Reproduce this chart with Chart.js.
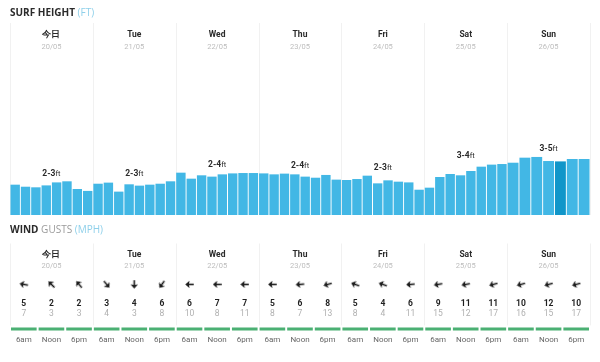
<!DOCTYPE html>
<html>
<head>
<meta charset="utf-8">
<script src="https://cdn.jsdelivr.net/npm/chart.js@4.4.1/dist/chart.umd.min.js"></script>
<style>
  html, body { margin: 0; padding: 0; background: #fff; }
  #wrap { position: relative; width: 600px; height: 362px; overflow: hidden; font-family: "Open Sans", sans-serif; }
  .ttl { position: absolute; left: 10px; font-size: 10px; font-weight: 700; color: #2b2b2b; white-space: nowrap; line-height: 12px; }
  .ttl .u { color: #8fd0ea; font-weight: 400; }
  .ttl .g { color: #9a9a9a; font-weight: 400; }
  #surfTitle { top: 6px; }
  #windTitle { top: 223px; }
  #surf { position: absolute; left: 0; top: 0; }
  #wind { position: absolute; left: 0; top: 218px; }
</style>
</head>
<body>
<div id="wrap">
  <canvas id="surf" width="600" height="218"></canvas>
  <canvas id="wind" width="600" height="144"></canvas>
  <div class="ttl" id="surfTitle">SURF HEIGHT <span class="u">(FT)</span></div>
  <div class="ttl" id="windTitle">WIND <span class="g">GUSTS</span> <span class="u">(MPH)</span></div>
</div>
<script>
// days / dates
const days = ["今日", "Tue", "Wed", "Thu", "Fri", "Sat", "Sun"];
const dates = ["20/05", "21/05", "22/05", "23/05", "24/05", "25/05", "26/05"];

// surf height per 3h (ft), last day has only 7 readings
const surfRanges = ["2-3", "2-3", "2-4", "2-4", "2-3", "3-4", "3-5"];
const surfFt = [
  [2.50, 2.33, 2.28, 2.44, 2.69, 2.78, 2.14, 1.98],
  [2.58, 2.67, 1.92, 2.53, 2.42, 2.50, 2.58, 2.78],
  [3.50, 3.00, 3.28, 3.17, 3.36, 3.44, 3.47, 3.47],
  [3.44, 3.36, 3.42, 3.36, 3.17, 3.08, 3.31, 2.92],
  [2.89, 2.97, 3.25, 2.61, 2.86, 2.75, 2.69, 2.08],
  [2.25, 3.14, 3.39, 3.28, 3.64, 4.00, 4.17, 4.22],
  [4.33, 4.75, 4.81, 4.47, 4.44, 4.64, 4.64]
];
const highlight = { day: 6, idx: 4 };

// wind (mph)
const windTimes = ["6am", "Noon", "6pm"];
const windSpeed = [[5, 2, 2], [3, 4, 6], [6, 7, 7], [5, 6, 8], [5, 4, 6], [9, 11, 11], [10, 12, 10]];
const windGust = [[7, 3, 3], [4, 3, 8], [10, 8, 11], [8, 7, 13], [8, 4, 11], [15, 12, 17], [16, 15, 17]];
// bearing the arrow points to (deg, clockwise from up)
const windDir = [[280, 315, 320], [140, 180, 215], [270, 270, 270], [270, 265, 255], [290, 290, 265], [260, 260, 255], [255, 255, 255]];

const BLUE = "#42b7e5";
const DARK = "#1196c9";
const GREEN = "#4bb073";
const SEP = "#f1f1f1";
const SMALL = "Roboto, 'Open Sans', sans-serif";

const slotX = (d, i, n) => d + (i + 0.5) / n;

// ---------- surf chart ----------
const surfSets = surfFt.map((vals, d) => ({
  data: vals.map((v, i) => ({ x: slotX(d, i, vals.length), y: v })),
  backgroundColor: vals.map((v, i) => (d === highlight.day && i === highlight.idx ? DARK : BLUE)),
  barThickness: 580 / days.length / vals.length - 1.6,
  grouped: false,
  borderWidth: 0
}));

const surfDeco = {
  id: "surfDeco",
  beforeDatasetsDraw(chart) {
    const { ctx, chartArea, scales: { x } } = chart;
    ctx.save();
    ctx.strokeStyle = SEP;
    ctx.lineWidth = 1;
    for (let d = 0; d <= days.length; d++) {
      const px = Math.round(x.getPixelForValue(d)) + 0.5;
      ctx.beginPath();
      ctx.moveTo(px, chartArea.top);
      ctx.lineTo(px, chartArea.bottom);
      ctx.stroke();
    }
    ctx.restore();
  },
  afterDatasetsDraw(chart) {
    const { ctx, scales: { x, y } } = chart;
    ctx.save();
    ctx.textAlign = "center";
    ctx.textBaseline = "middle";
    days.forEach((name, d) => {
      const cx = x.getPixelForValue(d + 0.5);
      ctx.fillStyle = "#2a2a2a";
      ctx.font = "bold 8.5px " + SMALL;
      ctx.fillText(name, cx, 35);
      ctx.fillStyle = "#bdbdbd";
      ctx.font = "7.5px " + SMALL;
      ctx.fillText(dates[d], cx, 47);

      // range label above the day's tallest bar
      const top = y.getPixelForValue(Math.max(...surfFt[d])) - 8;
      ctx.font = "bold 8.5px " + SMALL;
      const w1 = ctx.measureText(surfRanges[d]).width;
      ctx.font = "7.5px " + SMALL;
      const w2 = ctx.measureText("ft").width;
      const sx = cx - (w1 + w2) / 2;
      ctx.textAlign = "left";
      ctx.fillStyle = "#2a2a2a";
      ctx.font = "bold 8.5px " + SMALL;
      ctx.fillText(surfRanges[d], sx, top);
      ctx.font = "7.5px " + SMALL;
      ctx.fillText("ft", sx + w1, top);
      ctx.textAlign = "center";
    });
    ctx.restore();
  }
};

new Chart(document.getElementById("surf"), {
  type: "bar",
  data: { datasets: surfSets },
  options: {
    responsive: false,
    animation: false,
    layout: { padding: { top: 23, bottom: 3, left: 10, right: 10 } },
    plugins: { legend: { display: false }, tooltip: { enabled: false } },
    scales: {
      x: { type: "linear", min: 0, max: days.length, offset: false, display: false },
      y: { min: 0, max: 16, display: false }
    }
  },
  plugins: [surfDeco]
});

// ---------- wind chart ----------
// row positions inside the wind panel (px from its top)
const ROW = { day: 34, date: 46, arrow: 66, speed: 86.5, gust: 98, bar: 114, time: 125.5 };

const arrowImg = document.createElement("canvas");
arrowImg.width = 9;
arrowImg.height = 9;
(() => {
  const a = arrowImg.getContext("2d");
  a.fillStyle = "#1d1d1d";
  a.beginPath();
  a.moveTo(4.5, 0.3);
  a.lineTo(8.2, 4.6);
  a.lineTo(5.3, 4.0);
  a.lineTo(5.3, 8.7);
  a.lineTo(3.7, 8.7);
  a.lineTo(3.7, 4.0);
  a.lineTo(0.8, 4.6);
  a.closePath();
  a.fill();
})();

const arrowPts = [], arrowRot = [], greenPts = [];
windSpeed.forEach((row, d) => {
  row.forEach((v, j) => {
    arrowPts.push({ x: slotX(d, j, row.length), y: ROW.arrow });
    arrowRot.push(windDir[d][j]);
    greenPts.push({ x: d + j / row.length + 0.012, y: ROW.bar });
    greenPts.push({ x: d + (j + 1) / row.length - 0.012, y: ROW.bar });
    greenPts.push({ x: d + (j + 1) / row.length, y: null });
  });
});

const windDeco = {
  id: "windDeco",
  beforeDatasetsDraw(chart) {
    const { ctx, scales: { x, y } } = chart;
    ctx.save();
    ctx.strokeStyle = SEP;
    ctx.lineWidth = 1;
    for (let d = 0; d <= days.length; d++) {
      const px = Math.round(x.getPixelForValue(d)) + 0.5;
      ctx.beginPath();
      ctx.moveTo(px, y.getPixelForValue(22));
      ctx.lineTo(px, y.getPixelForValue(110));
      ctx.stroke();
    }
    ctx.restore();
  },
  afterDatasetsDraw(chart) {
    const { ctx, scales: { x, y } } = chart;
    ctx.save();
    ctx.textAlign = "center";
    ctx.textBaseline = "middle";
    days.forEach((name, d) => {
      const cx = x.getPixelForValue(d + 0.5);
      ctx.fillStyle = "#2a2a2a";
      ctx.font = "bold 8.5px " + SMALL;
      ctx.fillText(name, cx, y.getPixelForValue(ROW.day));
      ctx.fillStyle = "#bdbdbd";
      ctx.font = "7.5px " + SMALL;
      ctx.fillText(dates[d], cx, y.getPixelForValue(ROW.date));
      windSpeed[d].forEach((v, j) => {
        const sx = x.getPixelForValue(slotX(d, j, windSpeed[d].length));
        ctx.fillStyle = "#1f1f1f";
        ctx.font = "bold 8.5px " + SMALL;
        ctx.fillText(String(v), sx, y.getPixelForValue(ROW.speed));
        ctx.fillStyle = "#b0b0b0";
        ctx.font = "8.5px " + SMALL;
        ctx.fillText(String(windGust[d][j]), sx, y.getPixelForValue(ROW.gust));
        ctx.fillStyle = "#666";
        ctx.font = "8px " + SMALL;
        ctx.fillText(windTimes[j], sx, y.getPixelForValue(ROW.time));
      });
    });
    ctx.restore();
  }
};

new Chart(document.getElementById("wind"), {
  type: "scatter",
  data: {
    datasets: [
      {
        type: "line",
        data: greenPts,
        borderColor: GREEN,
        borderWidth: 3,
        borderCapStyle: "butt",
        pointRadius: 0,
        spanGaps: false
      },
      {
        data: arrowPts,
        pointStyle: arrowImg,
        pointRotation: arrowRot,
        pointRadius: 4
      }
    ]
  },
  options: {
    responsive: false,
    animation: false,
    layout: { padding: { top: 0, bottom: 0, left: 10, right: 10 } },
    plugins: { legend: { display: false }, tooltip: { enabled: false } },
    scales: {
      x: { type: "linear", min: 0, max: days.length, display: false },
      y: { min: 0, max: 144, reverse: true, display: false }
    }
  },
  plugins: [windDeco]
});
</script>
</body>
</html>
